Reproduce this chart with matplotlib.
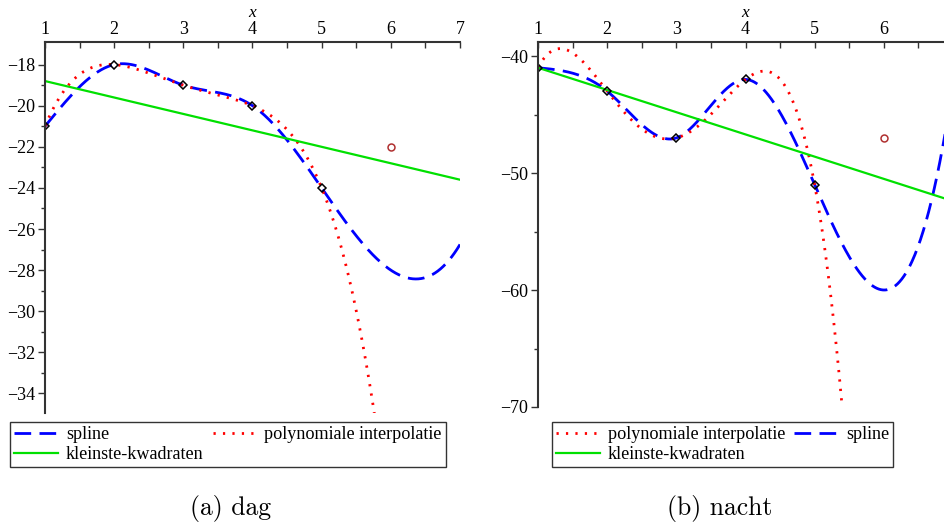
import numpy as np
import matplotlib.pyplot as plt

# Data: five fitted points plus one extra point (shown as red circle)
day_x = [1, 2, 3, 4, 5]
day_y = [-21, -18, -19, -20, -24]
day_extra = (6, -22)

night_x = [1, 2, 3, 4, 5]
night_y = [-41, -43, -47, -42, -51]
night_extra = (6, -47)

day_yticks = [-18, -20, -22, -24, -26, -28, -30, -32, -34]
night_yticks = [-40, -50, -60, -70]

SERIF = ["Liberation Serif", "DejaVu Serif"]
plt.rcParams["font.family"] = SERIF
plt.rcParams["axes.unicode_minus"] = True


def natural_spline(xk, yk, xs):
    # natural cubic spline, outer pieces extrapolated
    xk = np.asarray(xk, float)
    yk = np.asarray(yk, float)
    n = len(xk)
    h = np.diff(xk)
    A = np.zeros((n, n))
    r = np.zeros(n)
    A[0, 0] = A[-1, -1] = 1
    for i in range(1, n - 1):
        A[i, i - 1] = h[i - 1]
        A[i, i] = 2 * (h[i - 1] + h[i])
        A[i, i + 1] = h[i]
        r[i] = 6 * ((yk[i + 1] - yk[i]) / h[i] - (yk[i] - yk[i - 1]) / h[i - 1])
    M = np.linalg.solve(A, r)
    idx = np.clip(np.searchsorted(xk, xs) - 1, 0, n - 2)
    x0, x1 = xk[idx], xk[idx + 1]
    hh = x1 - x0
    return (M[idx] * (x1 - xs) ** 3 / (6 * hh) + M[idx + 1] * (xs - x0) ** 3 / (6 * hh)
            + (yk[idx] / hh - M[idx] * hh / 6) * (x1 - xs)
            + (yk[idx + 1] / hh - M[idx + 1] * hh / 6) * (xs - x0))


def draw(ax, xk, yk, extra, ylim, yticks, xlabels, order, leg_anchor):
    xs = np.linspace(1, 7, 600)
    poly = np.polyval(np.polyfit(xk, yk, len(xk) - 1), xs)
    lsq = np.polyval(np.polyfit(xk, yk, 1), xs)
    spl = natural_spline(xk, yk, xs)

    lines = {}
    lines["spline"], = ax.plot(xs, spl, color="#0000ff", lw=2, dashes=(6, 3),
                               label="spline")
    lines["poly"], = ax.plot(xs, poly, color="#ff0000", lw=2, dashes=(0.8, 2.6),
                             label="polynomiale interpolatie")
    lines["lsq"], = ax.plot(xs, lsq, color="#00e000", lw=1.6,
                            label="kleinste-kwadraten")
    ax.plot(extra[0], extra[1], "o", ms=5, mfc="none", mec="#b03030", mew=1.1)
    ax.plot(xk, yk, "D", ms=4.5, mfc="none", mec="black", mew=1.1)

    ax.set_xlim(1, 7)
    ax.set_ylim(*ylim)
    for s in ["right", "bottom"]:
        ax.spines[s].set_visible(False)
    for s in ["top", "left"]:
        ax.spines[s].set_linewidth(1.5)
        ax.spines[s].set_color("#333333")
    ax.xaxis.tick_top()
    ax.set_xticks(range(1, 8))
    ax.set_xticklabels(xlabels)
    ax.set_xticks(np.arange(1.5, 7, 1), minor=True)
    ax.set_yticks(yticks)
    step = abs(yticks[1] - yticks[0]) / 2
    ax.set_yticks(np.arange(yticks[0] - step, ylim[0], -step), minor=True)
    ax.tick_params(axis="x", which="both", direction="in", length=4, width=1,
                   labelsize=13, pad=3, color="#333333")
    ax.tick_params(axis="y", which="both", direction="out", length=5, width=1,
                   labelsize=13, pad=2, color="#333333")
    ax.tick_params(axis="y", which="minor", length=3)
    ax.set_xlabel("x", fontstyle="italic", fontsize=12.5, labelpad=3)
    ax.xaxis.set_label_position("top")

    handles = [lines[k] for k in order]
    leg = ax.legend(handles=handles, ncol=2, loc="upper left",
                    bbox_to_anchor=leg_anchor, borderaxespad=0, fontsize=13.1,
                    frameon=True, fancybox=False, edgecolor="black",
                    handlelength=2.4, handletextpad=0.45, columnspacing=0.5,
                    borderpad=0.22, labelspacing=0.18)
    leg.get_frame().set_linewidth(1.0)
    return leg


fig = plt.figure(figsize=(9.45, 5.25), dpi=100)
ax1 = fig.add_axes([45 / 945, 1 - 413 / 525, 415 / 945, 371 / 525])
ax2 = fig.add_axes([538 / 945, 1 - 407 / 525, 415 / 945, 365 / 525])

draw(ax1, day_x, day_y, day_extra, (-34.95, -16.9), day_yticks,
     ["1", "2", "3", "4", "5", "6", "7"], ["spline", "lsq", "poly"],
     (-35 / 415, -9 / 371))
draw(ax2, night_x, night_y, night_extra, (-70, -38.8), night_yticks,
     ["1", "2", "3", "4", "5", "6", ""], ["poly", "lsq", "spline"],
     (14 / 415, -15 / 365))

fig.text(231 / 945, 1 - 508 / 525, "(a) dag", fontfamily="cmr10", fontsize=18.5,
         ha="center", va="center")
fig.text(720 / 945, 1 - 508 / 525, "(b) nacht", fontfamily="cmr10", fontsize=18.5,
         ha="center", va="center")

fig.savefig("out.png", dpi=100)
